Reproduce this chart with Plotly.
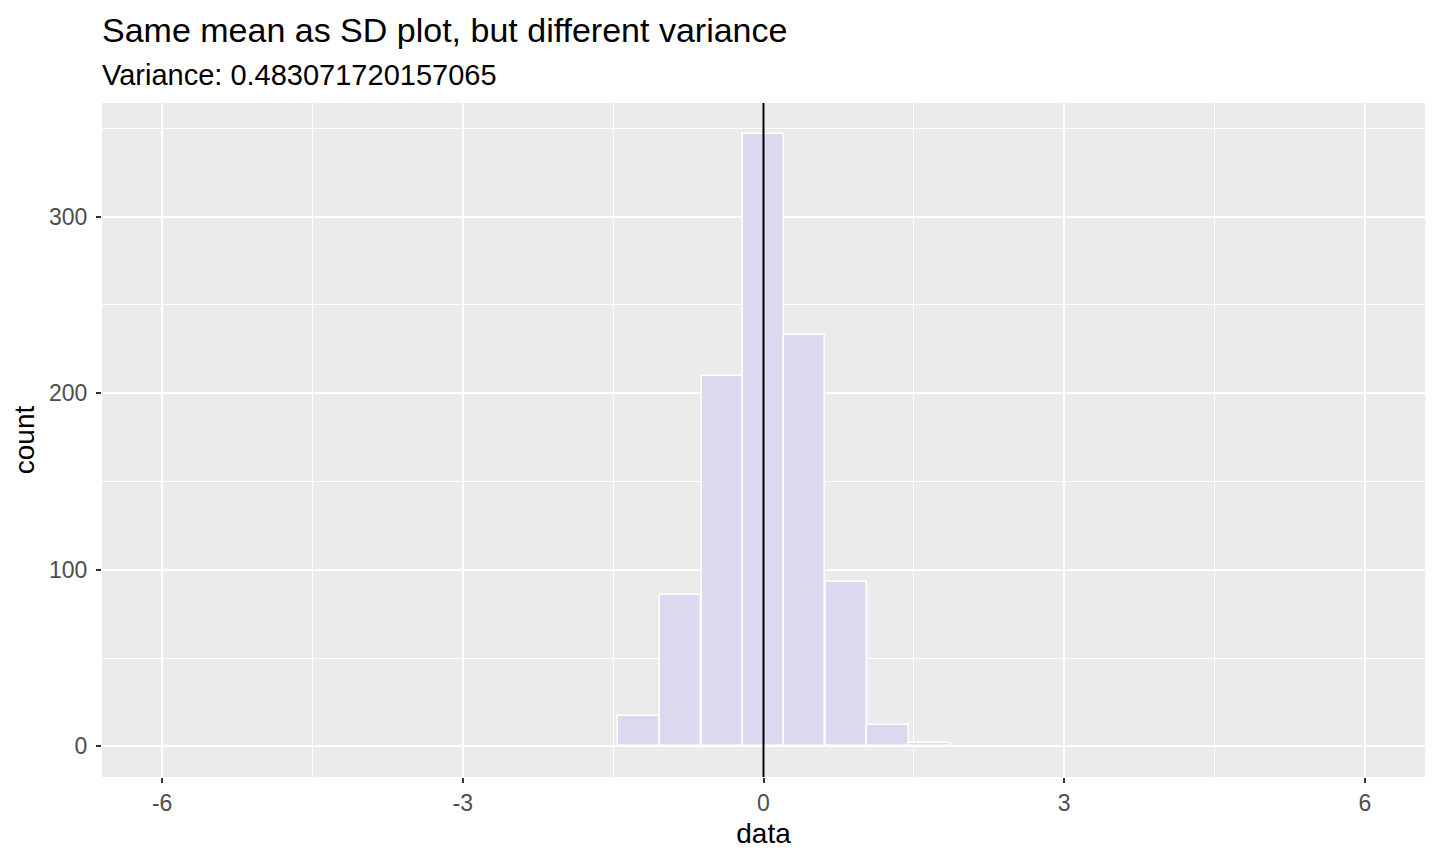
import plotly.graph_objects as go

# Histogram bins (centres) and their counts
bin_centers = [-1.24, -0.83, -0.41, 0.0, 0.41, 0.83, 1.24, 1.66]
bin_counts = [17, 86, 210, 347, 233, 93, 12, 2]
bin_width = 0.414
mean_value = 0.0

x_ticks = [-6, -3, 0, 3, 6]
y_ticks = [0, 100, 200, 300]

title_text = "Same mean as SD plot, but different variance"
subtitle_text = "Variance: 0.483071720157065"

FONT = "Liberation Sans, Arial, sans-serif"
PANEL_BG = "#EBEBEB"
BAR_FILL = "#DCD8EF"

fig = go.Figure()

fig.add_trace(go.Bar(
    x=bin_centers,
    y=bin_counts,
    width=bin_width,
    marker=dict(color=BAR_FILL, line=dict(color="white", width=1.5)),
    hoverinfo="x+y",
))

# mean line
fig.add_shape(
    type="line", xref="x", yref="paper",
    x0=mean_value, x1=mean_value, y0=0, y1=1,
    line=dict(color="black", width=2),
)

fig.add_annotation(
    text=title_text, xref="paper", yref="paper", x=0, y=1,
    xanchor="left", yanchor="middle", yshift=73, xshift=-2, showarrow=False,
    font=dict(family=FONT, size=34, color="black"),
)
fig.add_annotation(
    text=subtitle_text, xref="paper", yref="paper", x=0, y=1,
    xanchor="left", yanchor="middle", yshift=28, xshift=-2, showarrow=False,
    font=dict(family=FONT, size=29, color="black"),
)

fig.update_xaxes(
    range=[-6.6, 6.6],
    tickvals=x_ticks,
    ticktext=[str(v) for v in x_ticks],
    showgrid=True, gridcolor="white", gridwidth=2,
    minor=dict(tick0=-4.5, dtick=3, showgrid=True, gridcolor="white", gridwidth=1),
    zeroline=False, showline=False,
    ticks="outside", ticklen=5, tickwidth=2, tickcolor="#333333",
    tickfont=dict(family=FONT, size=23, color="#4D4D4D"),
    title=dict(text="data", font=dict(family=FONT, size=28, color="black"), standoff=8),
)
fig.update_yaxes(
    range=[-17.35, 364.35],
    tickvals=y_ticks,
    showgrid=True, gridcolor="white", gridwidth=2,
    minor=dict(tick0=50, dtick=100, showgrid=True, gridcolor="white", gridwidth=1),
    zeroline=False, showline=False,
    ticks="outside", ticklen=5, tickwidth=2, tickcolor="#333333",
    ticklabelstandoff=4,
    tickfont=dict(family=FONT, size=23, color="#4D4D4D"),
    title=dict(text="count", font=dict(family=FONT, size=28, color="black"), standoff=6),
)

fig.update_layout(
    width=1424, height=848,
    margin=dict(l=94, r=7, t=95, b=79),
    plot_bgcolor=PANEL_BG,
    paper_bgcolor="white",
    showlegend=False,
    bargap=0,
)

fig.write_html("out.html")
